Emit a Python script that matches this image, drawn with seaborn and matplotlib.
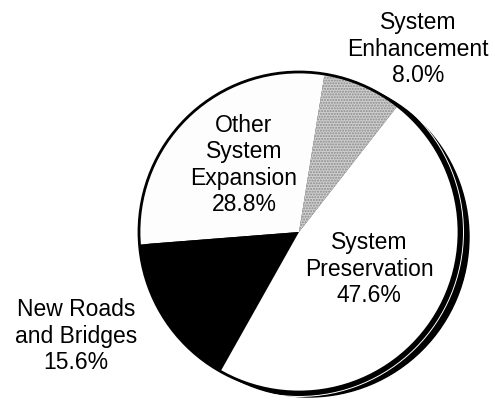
import matplotlib
matplotlib.use("Agg")
import matplotlib.pyplot as plt
from matplotlib.patches import Circle
import seaborn as sns

# Funding shares by program category (percent)
categories = ["System Enhancement", "Other System Expansion",
              "New Roads and Bridges", "System Preservation"]
shares = [8.0, 28.8, 15.6, 47.6]
label_lines = [["System", "Enhancement"],
               ["Other", "System", "Expansion"],
               ["New Roads", "and Bridges"],
               ["System", "Preservation"]]
slice_colors = ["#cfcfcf", "#fdfdfd", "#000000", "#ffffff"]

sns.set_theme(style="white")
plt.rcParams["font.family"] = ["Liberation Sans", "DejaVu Sans"]

fig = plt.figure(figsize=(4.95, 4.0), dpi=100)
ax = fig.add_axes([0, 0, 1, 1])

cx, cy, r = 299, 232, 160

# drop shadow behind the pie
ax.add_patch(Circle((cx + 10, cy + 5), r, facecolor="black",
                    edgecolor="black", lw=1, zorder=1))

wedges, _ = ax.pie(shares, colors=slice_colors, center=(cx, cy), radius=r,
                   startangle=-52, counterclock=False,
                   wedgeprops=dict(linewidth=0, zorder=2), frame=True)
for w in wedges:
    w.set_zorder(2)

# stippled texture on the enhancement slice
w0 = wedges[0]
from matplotlib.patches import Wedge
ax.add_patch(Wedge((cx, cy), r, w0.theta1, w0.theta2, facecolor="none",
                   edgecolor="#8a8a8a", hatch="......", lw=0, zorder=3))

# thin light line separating pie rim from shadow
ax.add_patch(Circle((cx, cy), r + 4.5, fill=False, edgecolor="white",
                    lw=0.7, zorder=1.5))
# pie rim
ax.add_patch(Circle((cx, cy), r, fill=False, edgecolor="black",
                    lw=2.0, zorder=4))

ax.set_xlim(0, 495)
ax.set_ylim(400, 0)
ax.set_aspect("auto")
ax.axis("off")

label_pos = [(418, 49), (244, 165), (76, 336), (369, 269)]
for lines, val, (x, y) in zip(label_lines, shares, label_pos):
    ax.text(x, y, "\n".join(lines + [f"{val:.1f}%"]), ha="center",
            va="center", fontsize=16.5, linespacing=1.2, color="black",
            zorder=5)

fig.savefig("out.png", dpi=100, facecolor="white")
